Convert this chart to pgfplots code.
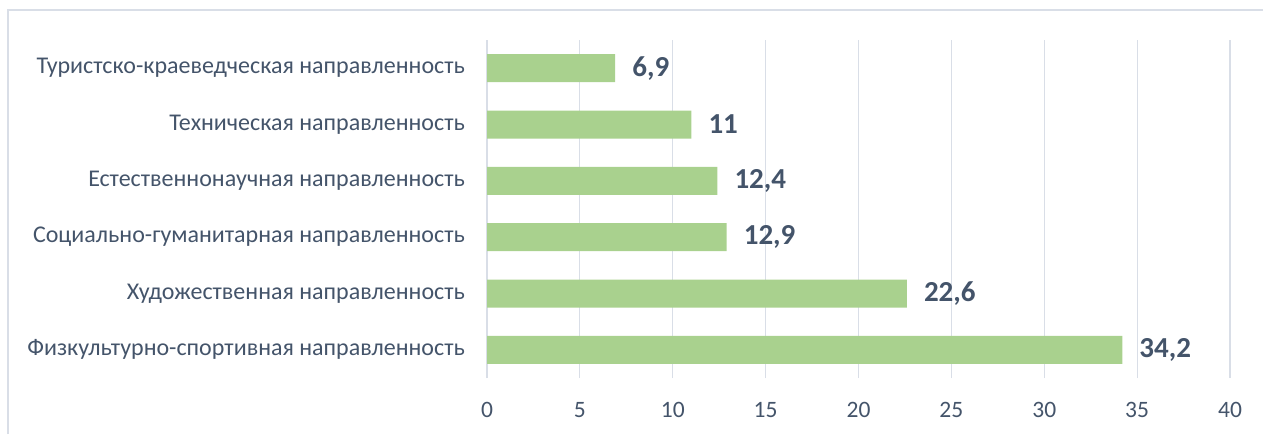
\documentclass[border=0pt]{standalone}
\usepackage{pgfplots}
\pgfplotsset{compat=1.18}
\usepackage{fontspec}
\setmainfont{Carlito}
\definecolor{barc}{HTML}{A9D18E}
\definecolor{txt}{HTML}{44546A}
\definecolor{grd}{HTML}{D9DEE7}
\begin{document}
\begin{tikzpicture}
\path[use as bounding box] (0,0) rectangle (1263pt,434pt);
\draw[grd, line width=1.2pt] (8pt,0) -- (8pt,424pt) -- (1263pt,424pt);
\begin{axis}[
  at={(487pt,56pt)}, anchor=south west,
  width=743pt, height=338pt, scale only axis,
  xbar, bar width=28pt,
  xmin=0, xmax=40, ymin=-0.5, ymax=5.5,
  xtick={0,5,...,40},
  ytick={0,1,2,3,4,5},
  yticklabels={Физкультурно-спортивная направленность,
               Художественная направленность,
               Социально-гуманитарная направленность,
               Естественнонаучная направленность,
               Техническая направленность,
               Туристско-краеведческая направленность},
  axis line style={draw=none},
  major tick length=0pt,
  xmajorgrids, grid style={grd, line width=1.2pt},
  /pgf/number format/assume math mode=true,
  /pgf/number format/use comma,
  yticklabel style={font=\fontsize{24}{28}\selectfont, text=txt, inner sep=0pt, anchor=east, xshift=-22pt},
  xticklabel style={font=\fontsize{23.5}{27}\selectfont, text=txt, inner sep=0pt, anchor=north, yshift=-24pt},
  nodes near coords,
  every node near coord/.append style={font=\fontsize{29}{32}\selectfont\bfseries, text=txt, anchor=west, inner sep=0pt, xshift=17pt},
  clip=false,
]
\addplot[fill=barc, draw=none] coordinates {
  (34.2,0) (22.6,1) (12.9,2) (12.4,3) (11,4) (6.9,5)
};
\end{axis}
\end{tikzpicture}
\end{document}
